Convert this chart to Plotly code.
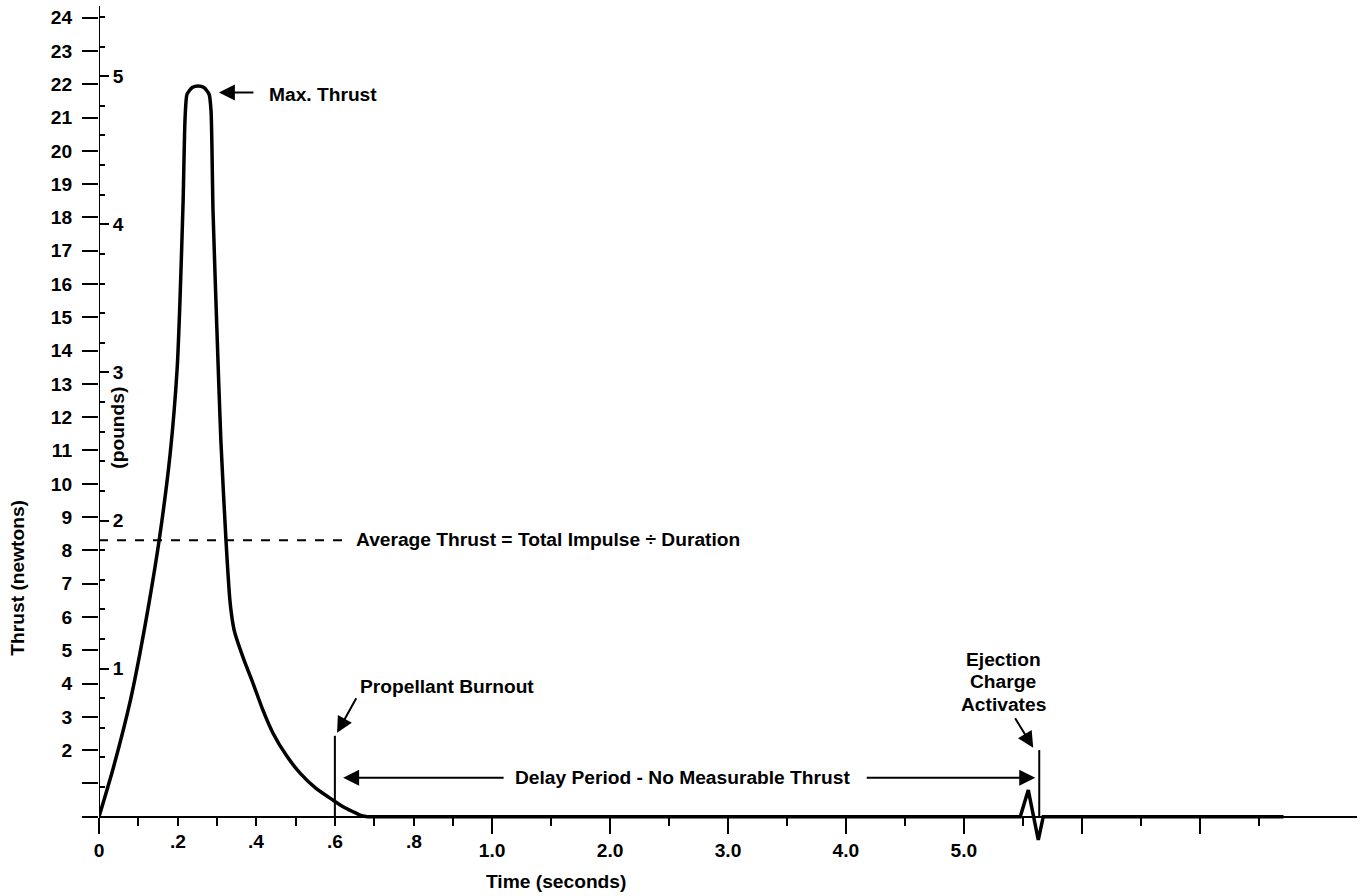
import numpy as np
import plotly.graph_objects as go

# ---------------- data ----------------
# burn phase (time in seconds, thrust in newtons)
burn_time = [0.0, 0.036, 0.079, 0.104, 0.127, 0.153, 0.181, 0.199, 0.206, 0.214, 0.219,
             0.224, 0.237, 0.252, 0.267, 0.280, 0.285, 0.290, 0.300, 0.310, 0.323,
             0.333, 0.341, 0.346, 0.369, 0.392, 0.417, 0.443, 0.476, 0.512, 0.552,
             0.595, 0.621, 0.646, 0.664, 0.682]
burn_thrust = [0.0, 1.45, 3.45, 4.9, 6.4, 8.3, 10.9, 13.5, 15.5, 18.5, 21.0,
               21.7, 21.9, 21.95, 21.9, 21.7, 21.2, 18.2, 14.6, 11.3, 8.3,
               6.5, 5.77, 5.5, 4.7, 4.0, 3.2, 2.5, 1.85, 1.3, 0.85,
               0.5, 0.3, 0.15, 0.05, 0.0]
# delay and ejection phase
tail_time = [0.682, 5.478, 5.546, 5.631, 5.673, 7.71]
tail_thrust = [0.0, 0.0, 0.8, -0.7, 0.0, 0.0]

average_thrust = 8.3          # newtons
burnout_time = 0.6
burnout_marker = 2.43
ejection_time = 5.639
ejection_marker = 2.0
N_PER_LB = 4.448

newton_ticks = list(range(0, 25))
newton_labels = ["", ""] + [str(v) for v in range(2, 25)]
pound_major = [1, 2, 3, 4, 5]
pound_minor = [round(0.2 * i, 1) for i in range(1, 28) if i % 5 != 0]
time_major = [0, 1, 2, 3, 4, 5, 6, 7]
time_major_labels = ["0", "1.0", "2.0", "3.0", "4.0", "5.0", "", ""]
time_minor = [0.1 * i for i in range(1, 10)] + [1.5, 2.5, 3.5, 4.5, 5.5, 6.5, 7.5]
time_small_labels = [0.2, 0.4, 0.6, 0.8]

Y_MIN, Y_MAX = -1.0, 24.35
X_MAX = 32.0


def tpos(t):
    """Broken time scale: 0-1 s stretched, then 1 s per 3 units."""
    t = np.asarray(t, dtype=float)
    return np.where(t <= 1, t * 10.0, 10.0 + (t - 1.0) * 3.0)


FONT = "Liberation Sans, Arial, Helvetica, sans-serif"
FS = 19.2

fig = go.Figure()
fig.add_trace(go.Scatter(x=tpos(burn_time), y=burn_thrust, mode="lines",
                         line=dict(color="black", width=3.5, shape="spline", smoothing=0.6),
                         hoverinfo="skip", showlegend=False))
fig.add_trace(go.Scatter(x=tpos(tail_time), y=tail_thrust, mode="lines",
                         line=dict(color="black", width=3.5),
                         hoverinfo="skip", showlegend=False))
fig.add_trace(go.Scatter(x=[None], y=[None], yaxis="y2", showlegend=False, hoverinfo="skip"))

shapes = []
# y axis line
shapes.append(dict(type="line", xref="x", yref="y", x0=0, x1=0, y0=0, y1=Y_MAX,
                   line=dict(color="black", width=2)))
# average thrust dashed line
shapes.append(dict(type="line", xref="x", yref="y", x0=0, x1=float(tpos(0.626)),
                   y0=average_thrust, y1=average_thrust,
                   line=dict(color="black", width=2, dash="9px,9px")))
# burnout marker
shapes.append(dict(type="line", xref="x", yref="y", x0=float(tpos(burnout_time)),
                   x1=float(tpos(burnout_time)), y0=0, y1=burnout_marker,
                   line=dict(color="black", width=2)))
# ejection marker
shapes.append(dict(type="line", xref="x", yref="y", x0=float(tpos(ejection_time)),
                   x1=float(tpos(ejection_time)), y0=0, y1=ejection_marker,
                   line=dict(color="black", width=2)))

bold = dict(family=FONT, size=FS, color="black", weight="bold")
ann = []


def arrow(t, n, ax, ay):
    ann.append(dict(x=float(tpos(t)), y=n, xref="x", yref="y", text="", showarrow=True,
                    ax=ax, ay=ay, arrowhead=2, arrowsize=1.6, arrowwidth=2,
                    arrowcolor="black", standoff=0))


def label(t, n, text, xanchor="left", angle=0):
    ann.append(dict(x=float(tpos(t)), y=n, xref="x", yref="y", text=text, showarrow=False,
                    xanchor=xanchor, yanchor="middle", font=bold, textangle=angle))


arrow(0.305, 21.75, 36, 0)
label(0.427, 21.68, "Max. Thrust")
label(0.649, 8.32, "Average Thrust = Total Impulse ÷ Duration")
arrow(0.6056, 2.52, 20, -36)
label(0.659, 3.9, "Propellant Burnout")
arrow(0.621, 1.17, 162, 0)
arrow(5.605, 1.17, -170, 0)
label(2.614, 1.17, "Delay Period - No Measurable Thrust", xanchor="center")
arrow(5.588, 2.07, -19, -31)
label(5.333, 4.73, "Ejection", xanchor="center")
label(5.333, 4.056, "Charge", xanchor="center")
label(5.333, 3.38, "Activates", xanchor="center")
label(0.048, 11.68, "(pounds)", xanchor="center", angle=-90)
for v in time_small_labels:
    label(v, -0.75, "." + str(int(round(v * 10))), xanchor="center")
ann.append(dict(x=float(tpos(1.544)), y=-0.0379, xref="x", yref="paper", text="Time (seconds)",
                showarrow=False, xanchor="center", yanchor="middle", font=bold))
ann.append(dict(x=-0.0644, y=7.18, xref="paper", yref="y", text="Thrust (newtons)",
                showarrow=False, xanchor="center", yanchor="middle", font=bold, textangle=-90))

fig.update_layout(
    width=1364, height=896,
    margin=dict(l=99, r=7, t=6, b=46, pad=0, autoexpand=False),
    paper_bgcolor="white", plot_bgcolor="white",
    showlegend=False,
    shapes=shapes, annotations=ann,
    xaxis=dict(range=[0, X_MAX], domain=[0, 1], anchor="free", automargin=False,
               position=(0 - Y_MIN) / (Y_MAX - Y_MIN),
               showgrid=False, zeroline=False, showline=True, linecolor="black", linewidth=2,
               tickmode="array", tickvals=list(tpos(time_major)), ticktext=time_major_labels,
               ticks="outside", ticklen=16, tickwidth=2, tickcolor="black",
               tickfont=bold,
               minor=dict(tickmode="array", tickvals=list(tpos(time_minor)), ticks="outside",
                          ticklen=8, tickwidth=2, tickcolor="black", showgrid=False)),
    yaxis=dict(range=[Y_MIN, Y_MAX], domain=[0, 1], showgrid=False, zeroline=False,
               automargin=False, ticklabelstandoff=6,
               showline=False, tickmode="array", tickvals=newton_ticks, ticktext=newton_labels,
               ticks="outside", ticklen=16, tickwidth=2, tickcolor="black", tickfont=bold),
    yaxis2=dict(range=[Y_MIN / N_PER_LB, Y_MAX / N_PER_LB], overlaying="y", anchor="free",
                position=0, side="right", showgrid=False, zeroline=False, showline=False,
                automargin=False,
                tickmode="array", tickvals=pound_major, ticktext=[str(v) for v in pound_major],
                ticks="outside", ticklen=9, tickwidth=2, tickcolor="black", tickfont=bold,
                minor=dict(tickmode="array", tickvals=pound_minor, ticks="outside",
                           ticklen=5, tickwidth=2, tickcolor="black", showgrid=False)),
)

fig.write_html("out.html", config={"displayModeBar": False},
               post_script="document.body.style.margin='0';")
